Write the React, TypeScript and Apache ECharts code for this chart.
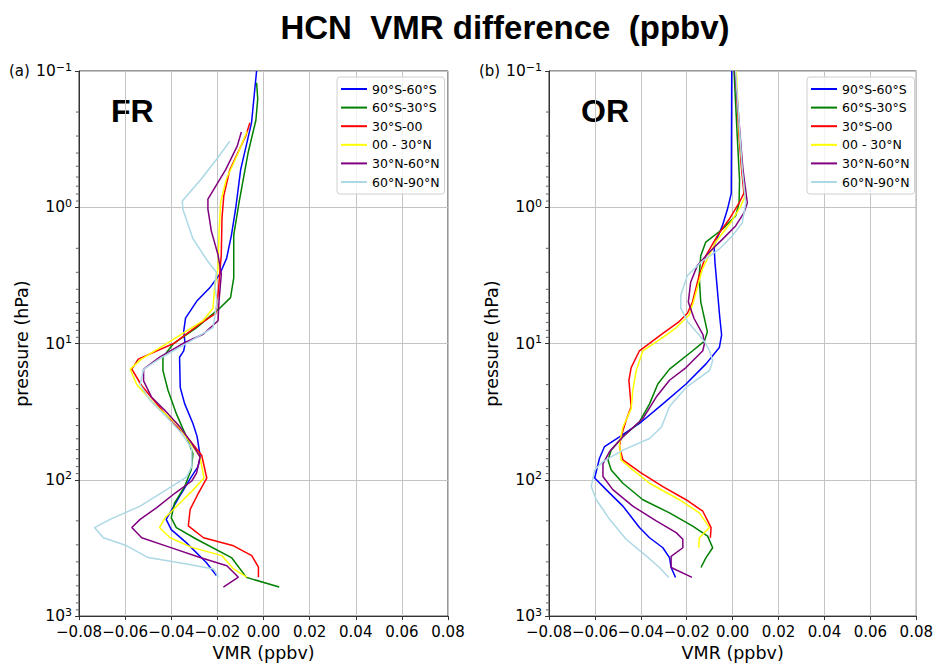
import React, { useEffect, useRef } from "react";
import * as echarts from "echarts";

// Region labels (legend) and colours
const REGIONS = ["90°S-60°S", "60°S-30°S", "30°S-00", "00 - 30°N", "30°N-60°N", "60°N-90°N"];
const COLORS = ["#0000ff", "#008000", "#ff0000", "#ffff00", "#800080", "#add8e6"];

// X axis ticks (VMR, ppbv)
const X_MIN = -0.08;
const X_MAX = 0.08;
const X_STEP = 0.02;
// Y axis (pressure, hPa), log scale
const P_TOP = 0.1;
const P_BOTTOM = 1000;
const MINOR_P = [0.2, 0.3, 0.4, 0.5, 0.6, 0.7, 0.8, 0.9, 2, 3, 4, 5, 6, 7, 8, 9, 20, 30, 40, 50, 60, 70, 80, 90, 200, 300, 400, 500, 600, 700, 800, 900];

// ---------- (a) FR : [VMR difference, pressure] ----------
const FR_90S_60S = [[-0.003,0.1],[-0.0052,0.24],[-0.0099,0.53],[-0.012,1.0],[-0.0139,1.6],[-0.016,2.37],[-0.019,3.1],[-0.0233,3.9],[-0.029,4.9],[-0.0338,6.5],[-0.0346,8.1],[-0.034,10],[-0.0346,11.3],[-0.0364,12.6],[-0.0361,21],[-0.0342,27.6],[-0.0306,38.6],[-0.0288,48],[-0.0274,68],[-0.0284,80],[-0.0313,95],[-0.0364,132],[-0.0422,195],[-0.040,232],[-0.0335,289],[-0.0248,404],[-0.0204,503]];
const FR_60S_30S = [[-0.003,0.122],[-0.0025,0.16],[-0.0033,0.23],[-0.0067,0.4],[-0.0106,0.92],[-0.0129,1.6],[-0.0129,3.3],[-0.0143,4.6],[-0.019,5.5],[-0.029,7.65],[-0.039,10],[-0.0436,12.6],[-0.0436,15.8],[-0.0414,22],[-0.0378,32.7],[-0.0335,48],[-0.0306,64],[-0.0313,84],[-0.0342,112],[-0.0386,148],[-0.040,190],[-0.0378,224],[-0.029,273],[-0.0139,372],[-0.0074,520],[0.0068,612]];
const FR_30S_00 = [[-0.0059,0.24],[-0.0077,0.3],[-0.0146,0.53],[-0.0172,0.82],[-0.018,1.2],[-0.0183,2.24],[-0.019,3.1],[-0.0197,4.4],[-0.0207,6.0],[-0.0277,7.2],[-0.039,10],[-0.0543,13],[-0.0571,15.4],[-0.0528,20.4],[-0.0463,27.7],[-0.039,38.7],[-0.0333,48],[-0.0268,66],[-0.0246,97],[-0.0282,125],[-0.0318,165],[-0.0326,218],[-0.026,266],[-0.013,305],[-0.0051,360],[-0.0022,437],[-0.0022,518]];
const FR_00_30N = [[-0.0071,0.277],[-0.011,0.4],[-0.0161,0.62],[-0.0186,0.92],[-0.0193,1.6],[-0.0197,2.8],[-0.0212,3.9],[-0.0219,5.5],[-0.0262,6.8],[-0.042,10],[-0.053,13],[-0.0578,15.4],[-0.055,20],[-0.0463,29],[-0.0376,38.7],[-0.0326,51],[-0.0275,68],[-0.0258,97],[-0.0304,118],[-0.0362,148],[-0.0427,190],[-0.0451,224],[-0.0405,266],[-0.0311,313],[-0.018,360],[-0.013,451],[-0.0072,518]];
const FR_30N_60N = [[-0.0096,0.28],[-0.0114,0.356],[-0.0164,0.53],[-0.0241,0.87],[-0.0241,1.03],[-0.0226,1.5],[-0.0197,2.24],[-0.0183,3.1],[-0.0193,4.9],[-0.0197,6.8],[-0.0262,8.55],[-0.035,10],[-0.045,12.6],[-0.052,15.4],[-0.052,18.8],[-0.0485,24.8],[-0.0427,31],[-0.0362,41],[-0.0311,54],[-0.0275,68],[-0.029,89],[-0.0311,102],[-0.0383,125],[-0.0463,160],[-0.0535,195],[-0.0571,224],[-0.0528,266],[-0.0405,313],[-0.0275,372],[-0.0159,427],[-0.0109,518],[-0.0174,612]];
const FR_60N_90N = [[-0.0146,0.328],[-0.0204,0.446],[-0.027,0.62],[-0.0352,0.9],[-0.035,1.03],[-0.0306,1.7],[-0.0241,2.5],[-0.0204,3.0],[-0.0212,3.7],[-0.0201,4.9],[-0.0219,7.65],[-0.0335,10],[-0.044,12.6],[-0.052,15.4],[-0.0535,20],[-0.0492,26],[-0.042,34.6],[-0.0354,45.8],[-0.0311,59],[-0.0311,80],[-0.0333,95],[-0.042,118],[-0.0535,156],[-0.0665,195],[-0.0733,224],[-0.0694,266],[-0.0593,305],[-0.05,372],[-0.0333,414],[-0.0217,451],[-0.0195,518]];

// ---------- (b) OR : [VMR difference, pressure] ----------
const OR_90S_60S = [[-0.0004,0.1],[-0.0006,0.79],[-0.0023,1.04],[-0.0045,1.37],[-0.0081,1.92],[-0.0077,2.54],[-0.0067,3.96],[-0.0057,6.2],[-0.0048,8.65],[-0.0058,10.7],[-0.0116,14.1],[-0.0203,19.8],[-0.0304,27.7],[-0.0406,38.6],[-0.0493,48.3],[-0.0558,57],[-0.058,69.5],[-0.0601,97],[-0.0551,118],[-0.0478,156],[-0.0406,224],[-0.0362,266],[-0.0304,315],[-0.0275,372],[-0.0268,440],[-0.0249,520]];
const OR_60S_30S = [[0.0006,0.1],[0.002,0.3],[0.003,0.63],[0.0028,0.93],[0.0013,1.16],[-0.0045,1.45],[-0.0117,1.8],[-0.0139,2.27],[-0.0146,3.17],[-0.0139,4.95],[-0.011,8.2],[-0.0123,9.6],[-0.0174,11.3],[-0.0275,15.4],[-0.0326,19.8],[-0.0362,27.7],[-0.0406,37.6],[-0.0478,48.3],[-0.0529,60.5],[-0.0543,71.5],[-0.0529,84.6],[-0.0478,106],[-0.0391,140],[-0.0275,175],[-0.0174,219],[-0.0109,259],[-0.0087,315],[-0.0116,372],[-0.0138,440]];
const OR_30S_00 = [[0.0013,0.1],[0.0028,0.3],[0.0039,0.53],[0.0049,0.79],[0.0028,0.93],[-0.0016,1.23],[-0.0067,1.62],[-0.0117,2.27],[-0.0146,3.17],[-0.0175,4.95],[-0.0197,6.0],[-0.0233,6.9],[-0.0313,8.65],[-0.0406,11.3],[-0.0442,15],[-0.0452,18.6],[-0.0442,29],[-0.0464,36.5],[-0.0486,48.3],[-0.0493,57],[-0.0478,71.5],[-0.0399,89],[-0.0304,112],[-0.0203,140],[-0.013,170],[-0.0094,224],[-0.0097,266]];
const OR_00_30N = [[0.0016,0.1],[0.003,0.3],[0.0054,0.83],[0.0035,0.98],[-0.0009,1.3],[-0.0074,1.8],[-0.0132,2.84],[-0.0171,4.95],[-0.019,6.2],[-0.0248,7.7],[-0.0304,9],[-0.0391,11.3],[-0.042,15.8],[-0.0435,22],[-0.0442,30],[-0.0478,41],[-0.0493,54],[-0.0486,71.5],[-0.0435,84.6],[-0.0362,106],[-0.0232,140],[-0.0145,175],[-0.0101,224],[-0.0145,266],[-0.0148,315]];
const OR_30N_60N = [[0.001,0.1],[0.0045,0.53],[0.0064,0.93],[0.0049,1.1],[0.0013,1.37],[-0.0045,1.72],[-0.0103,2.15],[-0.0154,2.68],[-0.0183,3.55],[-0.0193,4.95],[-0.0168,6.55],[-0.0129,8.65],[-0.0123,10],[-0.013,11.3],[-0.0203,15],[-0.0275,18.6],[-0.0333,24.7],[-0.0391,35.5],[-0.0478,48.3],[-0.0536,62],[-0.0565,76],[-0.0565,94.6],[-0.0522,118],[-0.0435,156],[-0.0333,200],[-0.0246,244],[-0.0217,273],[-0.0217,315],[-0.0268,364],[-0.0268,440],[-0.0177,520]];
const OR_60N_90N = [[0.0013,0.1],[0.0042,0.53],[0.0057,0.93],[0.0042,1.3],[-0.0001,1.62],[-0.0059,2.03],[-0.0139,2.54],[-0.0197,3.17],[-0.0226,4.4],[-0.0226,5.5],[-0.0197,6.9],[-0.0146,8.65],[-0.0117,10],[-0.0101,11.3],[-0.0087,13.4],[-0.0101,15.8],[-0.0203,21],[-0.0275,29],[-0.031,41],[-0.0362,49.7],[-0.0478,60.5],[-0.0565,73.5],[-0.0601,84.6],[-0.0616,112],[-0.0594,140],[-0.0536,195],[-0.0464,273],[-0.0377,361],[-0.0319,440],[-0.0278,520]];

const PANELS = [
  { tag: "(a)", name: "FR", series: [FR_90S_60S, FR_60S_30S, FR_30S_00, FR_00_30N, FR_30N_60N, FR_60N_90N] },
  { tag: "(b)", name: "OR", series: [OR_90S_60S, OR_60S_30S, OR_30S_00, OR_00_30N, OR_30N_60N, OR_60N_90N] },
];

const MPL = "'DejaVu Sans', sans-serif";
const BOLD = "'Liberation Sans', Arial, sans-serif";
const GRID_LEFT = [79, 549];
const GRID_TOP = 71;
const GRID_W = 369;
const GRID_H = 551;
const SPINE = "#333333";

export default function App() {
  const ref = useRef<HTMLDivElement>(null);

  useEffect(() => {
    if (!ref.current) return;
    const chart = echarts.init(ref.current, null, { renderer: "svg" });

    const grids = GRID_LEFT.map((l) => ({
      left: l, top: GRID_TOP, width: GRID_W, height: GRID_H,
      show: true, borderColor: SPINE, borderWidth: 1, backgroundColor: "transparent",
    }));

    const xAxes = GRID_LEFT.map((_, i) => ({
      type: "value", gridIndex: i, min: X_MIN, max: X_MAX, interval: X_STEP,
      name: "VMR (ppbv)", nameLocation: "middle", nameGap: 27,
      nameTextStyle: { fontFamily: MPL, fontSize: 17.5, color: "#000" },
      axisLine: { show: true, onZero: false, lineStyle: { color: SPINE, width: 1 } },
      axisTick: { show: true, inside: false, length: 4, lineStyle: { color: SPINE } },
      axisLabel: {
        fontFamily: MPL, fontSize: 15, color: "#000", margin: 8,
        formatter: (v: number) => {
          const x = Math.abs(v) < 1e-9 ? 0 : v;
          return x.toFixed(2).replace("-", "\u2212");
        },
      },
      splitLine: { show: true, lineStyle: { color: "#c4c4c4", width: 1 } },
    }));

    const yAxes = GRID_LEFT.map((_, i) => ({
      type: "log", logBase: 10, gridIndex: i, min: P_TOP, max: P_BOTTOM, inverse: true, splitNumber: 4,
      name: "pressure (hPa)", nameLocation: "middle", nameGap: 48,
      nameTextStyle: { fontFamily: MPL, fontSize: 17.5, color: "#000" },
      axisLine: { show: true, onZero: false, lineStyle: { color: SPINE, width: 1 } },
      axisTick: { show: true, inside: false, length: 4, lineStyle: { color: SPINE } },
      axisLabel: {
        margin: 7,
        formatter: (v: number) => {
          const e = Math.round(Math.log10(v));
          return "{b|10}{s|" + (e < 0 ? "\u2212" + -e : String(e)) + "}";
        },
        rich: {
          b: { fontFamily: MPL, fontSize: 15.5, color: "#000" },
          s: { fontFamily: MPL, fontSize: 11, color: "#000", padding: [0, 0, 8, 0] },
        },
      },
      splitLine: { show: true, lineStyle: { color: "#c4c4c4", width: 1 } },
    }));

    const series: any[] = [];
    PANELS.forEach((panel, p) => {
      panel.series.forEach((data, i) => {
        series.push({
          type: "line", name: REGIONS[i], xAxisIndex: p, yAxisIndex: p,
          data, symbol: "none", showSymbol: false, smooth: false,
          lineStyle: { color: COLORS[i], width: 1.5 },
          itemStyle: { color: COLORS[i] },
          z: 3,
        });
      });
      series.push({
        type: "scatter", name: "minor-" + p, xAxisIndex: p, yAxisIndex: p,
        data: MINOR_P.map((v) => [X_MIN, v]),
        symbol: "rect", symbolSize: [2.5, 1], symbolOffset: [-1.8, 0],
        itemStyle: { color: SPINE }, silent: true, clip: false, z: 4,
      });
    });

    const legends = GRID_LEFT.map((l) => ({
      data: REGIONS.map((name) => ({ name, icon: "rect" })),
      orient: "vertical", left: l + 258, top: 77,
      itemWidth: 26, itemHeight: 2, itemGap: 4.6,
      padding: [5, 5, 5, 4],
      borderColor: "#d0d0d0", borderWidth: 1, borderRadius: 3,
      backgroundColor: "rgba(255,255,255,0.8)",
      textStyle: { fontFamily: MPL, fontSize: 12.5, color: "#000", lineHeight: 14 },
      selectedMode: false,
    }));

    const graphics: any[] = [
      {
        type: "text", x: 505, y: 27.5,
        style: { text: "HCN  VMR difference  (ppbv)", fontFamily: BOLD, fontWeight: "bold", fontSize: 33, fill: "#000", textAlign: "center", textVerticalAlign: "middle" },
      },
    ];
    PANELS.forEach((panel, p) => {
      graphics.push({
        type: "text", x: GRID_LEFT[p] - 70, y: 71,
        style: { text: panel.tag, fontFamily: MPL, fontSize: 15, fill: "#000", textAlign: "left", textVerticalAlign: "middle" },
      });
      graphics.push({
        type: "text", x: GRID_LEFT[p] + 32, y: 110.5,
        style: { text: panel.name, fontFamily: BOLD, fontWeight: "bold", fontSize: 32, fill: "#000", textAlign: "left", textVerticalAlign: "middle" },
      });
    });

    chart.setOption({
      animation: false,
      backgroundColor: "#fff",
      grid: grids,
      xAxis: xAxes,
      yAxis: yAxes,
      legend: legends,
      series,
      graphic: graphics,
    });

    return () => chart.dispose();
  }, []);

  return <div ref={ref} style={{ width: 936, height: 667, position: "absolute", left: 0, top: 0 }} />;
}
